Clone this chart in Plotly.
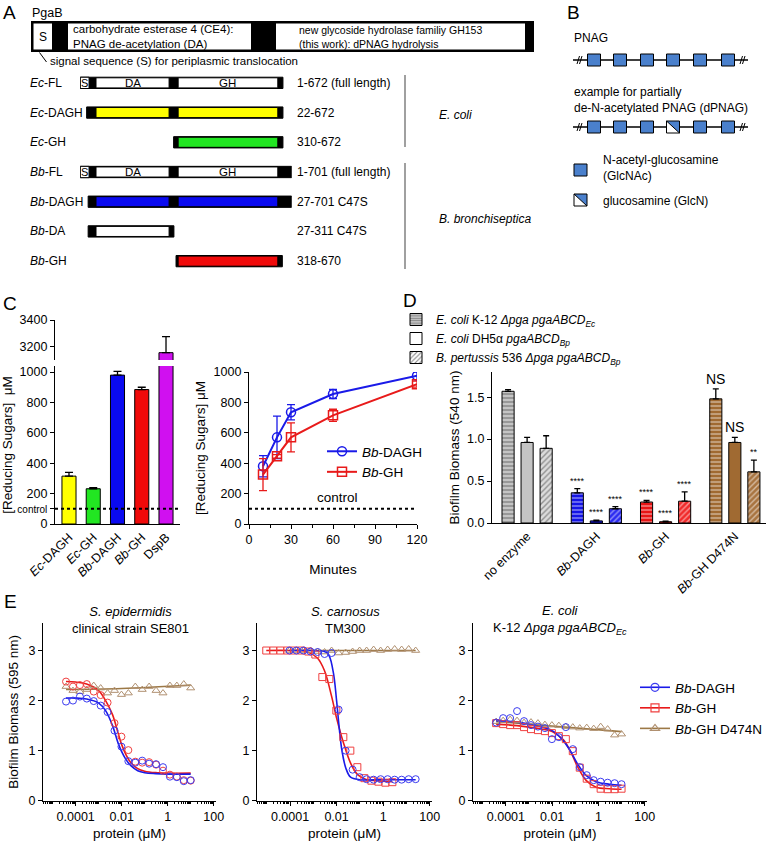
import plotly.graph_objects as go

W, H = 768, 841
def X(p): return p / W
def Y(p): return 1 - p / H
def xdom(a, b): return [a / W, b / W]
def ydom(top, bottom): return [1 - bottom / H, 1 - top / H]

FONT = "Arial, Liberation Sans, Helvetica, sans-serif"

# ---------------- Panel A data ----------------
constructs = ["<i>Ec</i>-FL", "<i>Ec</i>-DAGH", "<i>Ec</i>-GH", "<i>Bb</i>-FL",
              "<i>Bb</i>-DAGH", "<i>Bb</i>-DA", "<i>Bb</i>-GH"]
construct_start = [1, 22, 310, 1, 27, 27, 318]
construct_end = [672, 672, 672, 701, 701, 311, 670]
construct_ranges = ["1-672 (full length)", "22-672", "310-672", "1-701 (full length)",
                    "27-701 C47S", "27-311 C47S", "318-670"]
construct_colors = ["white", "#FFFF00", "#22E622", "white", "#0A0AF0", "white", "#F00A0A"]
full_length = [True, False, False, True, False, False, False]
signal_end = 30
da_region = (53, 295)
gh_region = (325, 655)

# ---------------- Panel C data ----------------
c_enzymes = ["<i>Ec</i>-DAGH", "<i>Ec</i>-GH", "<i>Bb</i>-DAGH", "<i>Bb</i>-GH", "DspB"]
c_sugars = [315, 232, 980, 885, 3155]
c_err = [25, 8, 25, 15, 120]
c_colors = ["#FFFF00", "#22E622", "#0A0AF0", "#F00A0A", "#D010F0"]
control_level = 100

time_min = [10, 20, 30, 60, 120]
dagh_sugars = [380, 570, 735, 855, 975]
dagh_err = [70, 140, 50, 30, 25]
gh_sugars = [325, 445, 570, 715, 920]
gh_err = [105, 12, 95, 40, 20]

# ---------------- Panel D data ----------------
d_groups = ["no enzyme", "<i>Bb</i>-DAGH", "<i>Bb</i>-GH", "<i>Bb</i>-GH D474N"]
d_strains = ["<i>E. coli</i> K-12 <i>Δpga pgaABCD</i><sub><i>Ec</i></sub>",
             "<i>E. coli</i> DH5α <i>pgaABCD</i><sub><i>Bp</i></sub>",
             "<i>B. pertussis</i> 536 <i>Δpga pgaABCD</i><sub><i>Bp</i></sub>"]
d_k12 = [1.57, 0.36, 0.25, 1.48]
d_k12_err = [0.02, 0.05, 0.02, 0.12]
d_dh5 = [0.96, 0.025, 0.015, 0.96]
d_dh5_err = [0.06, 0.01, 0.006, 0.06]
d_bp = [0.89, 0.17, 0.26, 0.61]
d_bp_err = [0.15, 0.025, 0.11, 0.14]
d_k12_sig = ["", "****", "****", "NS"]
d_dh5_sig = ["", "****", "****", "NS"]
d_bp_sig = ["", "****", "****", "**"]

# ---------------- Panel E data ----------------
e1_conc = [0.0000381, 0.0000763, 0.000153, 0.000305, 0.00061, 0.00122, 0.00244, 0.00488,
           0.00977, 0.0195, 0.0391, 0.0781, 0.156, 0.3125, 0.625, 1.25, 2.5, 5, 10]
e1_dagh = [1.98, 2.0, 2.08, 2.04, 1.99, 1.9, 1.77, 1.4, 1.08, 0.79, 0.76, 0.8, 0.74, 0.73,
           0.67, 0.48, 0.47, 0.39, 0.41]
e1_gh = [2.38, 2.28, 2.31, 2.33, 2.18, 2.11, 1.96, 1.55, 1.28, 1.01, 0.78, 0.76, 0.77, 0.72,
         0.6, 0.52, 0.48, 0.41, 0.4]
e1_mut = [2.28, 2.2, 2.18, 2.22, 2.3, 2.25, 2.15, 2.2, 2.12, 2.15, 2.28, 2.22, 2.28, 2.2,
          2.15, 2.3, 2.3, 2.33, 2.25]
e1_fit_x = [0.0000381, 0.0001, 0.0003, 0.001, 0.002, 0.004, 0.007, 0.01, 0.015, 0.025, 0.05,
            0.1, 0.3, 1, 10]
e1_fit_dagh = [2.05, 2.05, 2.03, 1.95, 1.8, 1.5, 1.15, 0.98, 0.83, 0.7, 0.6, 0.56, 0.54, 0.53, 0.53]
e1_fit_gh = [2.38, 2.37, 2.33, 2.2, 2.0, 1.72, 1.35, 1.12, 0.93, 0.76, 0.64, 0.59, 0.56, 0.55, 0.55]
e1_fit_mut_x = [0.0000381, 0.01, 10]
e1_fit_mut = [2.22, 2.24, 2.31]

e2_conc_dagh = [0.000095, 0.00019, 0.00038, 0.00076, 0.00153, 0.00305, 0.0061, 0.0122, 0.0244,
                0.0488, 0.0977, 0.195, 0.39, 0.78, 1.56, 3.125, 6.25, 12.5, 25]
e2_dagh = [3.0, 3.0, 3.0, 2.98, 2.97, 2.93, 2.95, 1.82, 1.0, 0.62, 0.47, 0.43, 0.42, 0.43,
           0.43, 0.42, 0.42, 0.43, 0.43]
e2_conc_gh = [0.0000095, 0.000019, 0.000038, 0.000076, 0.00015, 0.000305, 0.00061, 0.00122,
              0.00244, 0.00488, 0.00977, 0.0195, 0.039, 0.078, 0.156, 0.3125, 0.625, 1.25, 2.5]
e2_gh = [3.0, 3.0, 3.0, 3.0, 3.0, 3.0, 2.98, 2.92, 2.47, 2.43, 1.8, 1.27, 1.0, 0.67, 0.45,
         0.4, 0.38, 0.36, 0.37]
e2_mut = [3.0, 3.0, 3.0, 3.0, 2.98, 2.97, 3.0, 2.95, 2.96, 2.98, 3.0, 3.0, 3.02, 3.0, 3.02,
          3.03, 3.02, 3.03, 3.0]
e2_fit_x_dagh = [0.000095, 0.001, 0.004, 0.007, 0.01, 0.013, 0.017, 0.025, 0.04, 0.1, 1, 25]
e2_fit_dagh = [3.0, 3.0, 2.95, 2.6, 2.0, 1.45, 1.0, 0.65, 0.47, 0.42, 0.42, 0.42]
e2_fit_x_gh = [0.0000095, 0.0001, 0.0005, 0.0015, 0.003, 0.006, 0.01, 0.02, 0.04, 0.08, 0.2, 0.5, 2.5]
e2_fit_gh = [3.0, 3.0, 2.98, 2.85, 2.6, 2.1, 1.65, 1.15, 0.75, 0.52, 0.42, 0.4, 0.38]
e2_fit_mut_x = [0.000095, 25]
e2_fit_mut = [3.0, 3.0]

e3_conc = e1_conc
e3_dagh = [1.56, 1.65, 1.65, 1.79, 1.59, 1.51, 1.48, 1.45, 1.23, 1.27, 1.47, 1.03, 0.67, 0.51,
           0.41, 0.38, 0.36, 0.35, 0.33]
e3_gh = [1.55, 1.53, 1.51, 1.51, 1.47, 1.43, 1.41, 1.39, 1.35, 1.29, 1.23, 0.99, 0.66, 0.44,
         0.33, 0.24, 0.23, 0.23, 0.24]
e3_mut = [1.58, 1.6, 1.62, 1.6, 1.56, 1.57, 1.55, 1.52, 1.51, 1.5, 1.48, 1.47, 1.45, 1.46,
          1.44, 1.48, 1.43, 1.31, 1.33]
e3_fit_x = [0.0000381, 0.0003, 0.002, 0.01, 0.03, 0.06, 0.12, 0.3, 0.8, 3, 10]
e3_fit_dagh = [1.6, 1.57, 1.5, 1.4, 1.2, 1.0, 0.75, 0.5, 0.38, 0.33, 0.31]
e3_fit_gh = [1.53, 1.5, 1.45, 1.38, 1.22, 1.0, 0.7, 0.4, 0.27, 0.24, 0.23]
e3_fit_mut_x = [0.0000381, 10]
e3_fit_mut = [1.58, 1.38]

BLUE = "#1a1ae8"
RED = "#e81a1a"
BROWN = "#9c7846"
M_BLUE = "#3c3cf0"
M_RED = "#f04040"
M_BROWN = "#b09070"

fig = go.Figure()
shapes = []
annotations = []

def txt(x, y, s, size=12, xanchor="left", yanchor="middle", xref="paper", yref="paper", **kw):
    annotations.append(dict(x=x, y=y, text=s, showarrow=False, xanchor=xanchor, yanchor=yanchor,
                            xref=xref, yref=yref,
                            font=dict(size=size, family=FONT, color="black"), **kw))

def prect(x0, y0, x1, y1, fill, lw=0, lc="black"):
    shapes.append(dict(type="rect", xref="paper", yref="paper", x0=X(x0), x1=X(x1),
                       y0=Y(y1), y1=Y(y0), fillcolor=fill, line=dict(width=lw, color=lc)))

def pline(x0, y0, x1, y1, color="black", width=1.2, dash=None):
    d = dict(color=color, width=width)
    if dash:
        d["dash"] = dash
    shapes.append(dict(type="line", xref="paper", yref="paper", x0=X(x0), x1=X(x1),
                       y0=Y(y0), y1=Y(y1), line=d))

# ---------------- Panel letters ----------------
for letter, px, py in [("A", 9, 12), ("B", 573, 12), ("C", 10, 304), ("D", 410, 300), ("E", 10, 601)]:
    txt(X(px), Y(py), letter, size=19, xanchor="center")

# ---------------- Panel A header (schematic) ----------------
txt(X(30), Y(13), "PgaB", size=12.5)
prect(31, 21, 534, 52, "black")
prect(33.5, 23.5, 52, 49.5, "white")
prect(68, 23.5, 251, 49.5, "white")
prect(276, 23.5, 525, 49.5, "white")
txt(X(42.7), Y(36.5), "S", size=12, xanchor="center")
txt(X(71), Y(36.5), "carbohydrate esterase 4 (CE4):<br>PNAG de-acetylation (DA)", size=11.5,
    align="left")
txt(X(297), Y(36.5), "new glycoside hydrolase familiy GH153<br>(this work): dPNAG hydrolysis",
    size=10.5, align="left")
pline(39.5, 52.5, 46.5, 62, width=1)
txt(X(48), Y(61), "signal sequence (S) for periplasmic translocation", size=11.5)

# constructs on a residue axis
fig.add_trace(go.Scatter(x=construct_start, y=list(range(len(constructs))), mode="markers",
                         marker=dict(opacity=0), xaxis="x", yaxis="y", showlegend=False,
                         hoverinfo="skip"))
hh = 0.19
for i in range(len(constructs)):
    s, e = construct_start[i], construct_end[i]
    shapes.append(dict(type="rect", xref="x", yref="y", x0=s, x1=e, y0=i - hh, y1=i + hh,
                       fillcolor="black", line=dict(width=1, color="black")))
    if full_length[i]:
        shapes.append(dict(type="rect", xref="x", yref="y", x0=s, x1=signal_end, y0=i - hh,
                           y1=i + hh, fillcolor="white", line=dict(width=1, color="black")))
        txt((s + signal_end) / 2, i, "S", size=11, xanchor="center", xref="x", yref="y")
    for (r0, r1), lab in [(da_region, "DA"), (gh_region, "GH")]:
        a, b = max(s, r0), min(e, r1)
        if b > a:
            shapes.append(dict(type="rect", xref="x", yref="y", x0=a, x1=b, y0=i - hh + 0.02,
                               y1=i + hh - 0.02, fillcolor=construct_colors[i],
                               line=dict(width=1, color="black")))
            if full_length[i]:
                txt((a + b) / 2, i, lab, size=11.5, xanchor="center", xref="x", yref="y")
    txt(X(28), i, constructs[i], size=12, yref="y")
    txt(X(295), i, construct_ranges[i], size=12, yref="y")

pline(405, 75, 405, 147, color="#808080", width=1.5)
pline(405, 163, 405, 269, color="#808080", width=1.5)
txt(X(437), Y(115), "<i>E. coli</i>", size=12)
txt(X(437), Y(219), "<i>B. bronchiseptica</i>", size=12)

# ---------------- Panel B (schematic) ----------------
SQ = "#4a80cc"
txt(X(572), Y(38), "PNAG", size=12)
txt(X(572), Y(100), "example for partially<br>de-N-acetylated PNAG (dPNAG)", size=12,
    align="left")
sq_centers = [594, 620, 647, 673, 700, 728]
for row_y, special in [(60, None), (127, 3)]:
    pline(573, row_y, 748, row_y, width=1.3)
    for bx in (577, 740):
        pline(bx, row_y + 4, bx + 2.5, row_y - 4, width=1)
        pline(bx + 2.5, row_y + 4, bx + 5, row_y - 4, width=1)
    for j, cx in enumerate(sq_centers):
        x0, x1, y0, y1 = cx - 6.5, cx + 6.5, row_y - 6, row_y + 6
        if j == special:
            prect(x0, y0, x1, y1, "white")
            shapes.append(dict(type="path", xref="paper", yref="paper",
                               path=f"M {X(x0)},{Y(y0)} L {X(x1)},{Y(y0)} L {X(x1)},{Y(y1)} Z",
                               fillcolor=SQ, line=dict(width=0)))
            prect(x0, y0, x1, y1, "rgba(0,0,0,0)", lw=1)
            pline(x0, y0, x1, y1, width=1)
        else:
            prect(x0, y0, x1, y1, SQ, lw=1)
prect(574, 164, 587, 176, SQ, lw=1)
txt(X(601), Y(168), "N-acetyl-glucosamine<br>(GlcNAc)", size=12, align="left")
prect(574, 194, 587, 206, "white")
shapes.append(dict(type="path", xref="paper", yref="paper",
                   path=f"M {X(574)},{Y(194)} L {X(587)},{Y(194)} L {X(587)},{Y(206)} Z",
                   fillcolor=SQ, line=dict(width=0)))
prect(574, 194, 587, 206, "rgba(0,0,0,0)", lw=1)
pline(574, 194, 587, 206, width=1)
txt(X(601), Y(201), "glucosamine (GlcN)", size=12)

# ---------------- Panel C left: bars with broken axis ----------------
cx_pos = list(range(len(c_enzymes)))
for xa, ya in [("x2", "y2"), ("x3", "y3")]:
    fig.add_trace(go.Bar(x=cx_pos, y=c_sugars, width=0.58,
                         marker=dict(color=c_colors, line=dict(color="black", width=1)),
                         error_y=dict(type="data", array=c_err, arrayminus=[0] * len(c_err),
                                      symmetric=False, color="black", thickness=1.3, width=4),
                         xaxis=xa, yaxis=ya, showlegend=False))
shapes.append(dict(type="line", xref="x2 domain", yref="y2", x0=0, x1=1, y0=control_level,
                   y1=control_level, line=dict(color="black", width=2, dash="dot")))

# ---------------- Panel C right: time course ----------------
fig.add_trace(go.Scatter(x=time_min, y=dagh_sugars, mode="lines+markers", name="<i>Bb</i>-DAGH",
                         line=dict(color=BLUE, width=2),
                         marker=dict(symbol="circle-open", size=9, color=BLUE, line=dict(width=1.5)),
                         error_y=dict(type="data", array=dagh_err, color=BLUE, thickness=1.3, width=4),
                         xaxis="x4", yaxis="y4", legend="legend2"))
fig.add_trace(go.Scatter(x=time_min, y=gh_sugars, mode="lines+markers", name="<i>Bb</i>-GH",
                         line=dict(color=RED, width=2),
                         marker=dict(symbol="square-open", size=9, color=RED, line=dict(width=1.5)),
                         error_y=dict(type="data", array=gh_err, color=RED, thickness=1.3, width=4),
                         xaxis="x4", yaxis="y4", legend="legend2"))
shapes.append(dict(type="line", xref="x4 domain", yref="y4", x0=0, x1=1, y0=control_level,
                   y1=control_level, line=dict(color="black", width=2, dash="dot")))
txt(63, control_level, "control", size=13.5, xanchor="center", yanchor="bottom",
    xref="x4", yref="y4", yshift=2)

# ---------------- Panel D: grouped patterned bars ----------------
grp_x = list(range(len(d_groups)))
base_cols = ["#c4c4c4", "#1414e6", "#e61414", "#a06a32"]
dark_cols = ["#505050", "#00006a", "#6a0000", "#3e2408"]
light_cols = ["#dcdcdc", "#2a2af0", "#f02a2a", "#a87440"]
bw = 0.175
step = 0.275
series = [(d_k12, d_k12_err, d_k12_sig, "-", base_cols),
          (d_dh5, d_dh5_err, d_dh5_sig, "", base_cols),
          (d_bp, d_bp_err, d_bp_sig, "/", light_cols)]
for k, (vals, errs, sigs, pat, cols) in enumerate(series):
    marker = dict(color=cols, line=dict(color="black", width=1))
    if pat:
        marker["pattern"] = dict(shape=pat, fillmode="overlay", fgcolor=dark_cols, size=4,
                                 solidity=0.35)
    fig.add_trace(go.Bar(x=grp_x, y=vals, width=bw, offset=(k - 1) * step - bw / 2,
                         marker=marker,
                         error_y=dict(type="data", array=errs, arrayminus=[0] * len(errs),
                                      symmetric=False, color="black", thickness=1.3, width=3),
                         xaxis="x5", yaxis="y5", showlegend=False))
    for g in grp_x:
        if sigs[g]:
            big = sigs[g] == "NS"
            txt(g + (k - 1) * step, vals[g] + errs[g], sigs[g], size=14 if big else 9,
                xanchor="center", yanchor="bottom", xref="x5", yref="y5", yshift=0 if big else 1)
# legend-only entries for panel D
leg_styles = [dict(color="#c4c4c4", pattern=dict(shape="-", fillmode="overlay", fgcolor="#404040",
                                                 size=3, solidity=0.4)),
              dict(color="white"),
              dict(color="white", pattern=dict(shape="/", fillmode="overlay", fgcolor="#202020",
                                               size=4, solidity=0.35))]
for name, st in zip(d_strains, leg_styles):
    st["line"] = dict(color="black", width=1)
    fig.add_trace(go.Bar(x=[None], y=[None], name=name, marker=st, xaxis="x5", yaxis="y5",
                         legend="legend"))

# ---------------- Panel E: dose responses ----------------
e_sets = [
    ("x6", "y6", (e1_conc, e1_dagh), (e1_conc, e1_gh), (e1_conc, e1_mut),
     (e1_fit_x, e1_fit_dagh), (e1_fit_x, e1_fit_gh), (e1_fit_mut_x, e1_fit_mut), "circle-open"),
    ("x7", "y7", (e2_conc_dagh, e2_dagh), (e2_conc_gh, e2_gh), (e2_conc_dagh, e2_mut),
     (e2_fit_x_dagh, e2_fit_dagh), (e2_fit_x_gh, e2_fit_gh), (e2_fit_mut_x, e2_fit_mut), "square-open"),
    ("x8", "y8", (e3_conc, e3_dagh), (e3_conc, e3_gh), (e3_conc, e3_mut),
     (e3_fit_x, e3_fit_dagh), (e3_fit_x, e3_fit_gh), (e3_fit_mut_x, e3_fit_mut), "square-open"),
]
for xa, ya, pd_, pg, pm, fd, fg, fm, gh_sym in e_sets:
    for (xs, ys), col, lcol in [(fm, BROWN, BROWN), (fg, RED, RED), (fd, BLUE, BLUE)]:
        fig.add_trace(go.Scatter(x=xs, y=ys, mode="lines", line=dict(color=lcol, width=1.6,
                                                                     shape="spline"),
                                 xaxis=xa, yaxis=ya, showlegend=False, hoverinfo="skip"))
    for (xs, ys), sym, col in [(pm, "triangle-up-open", M_BROWN), (pg, gh_sym, M_RED),
                               (pd_, "circle-open", M_BLUE)]:
        fig.add_trace(go.Scatter(x=xs, y=ys, mode="markers",
                                 marker=dict(symbol=sym, size=7, color=col, line=dict(width=1)),
                                 xaxis=xa, yaxis=ya, showlegend=False))
for name, sym, col, lcol in [("<i>Bb</i>-DAGH", "circle-open", M_BLUE, BLUE),
                             ("<i>Bb</i>-GH", "square-open", M_RED, RED),
                             ("<i>Bb</i>-GH D474N", "triangle-up-open", M_BROWN, BROWN)]:
    fig.add_trace(go.Scatter(x=[None], y=[None], mode="lines+markers", name=name,
                             line=dict(color=lcol, width=1.6),
                             marker=dict(symbol=sym, size=8, color=col, line=dict(width=1.2)),
                             xaxis="x6", yaxis="y6", legend="legend3"))

txt(X(130), Y(620), "<i>S. epidermidis</i><br>clinical strain SE801", size=13, xanchor="center")
txt(X(345), Y(620), "<i>S. carnosus</i><br>TM300", size=13, xanchor="center")
txt(X(560), Y(620), "<i>E. coli</i><br>K-12 <i>Δpga pgaABCD</i><sub><i>Ec</i></sub>", size=13,
    xanchor="center")

# ---------------- Axes ----------------
def base_axis(**kw):
    d = dict(showline=True, linecolor="black", linewidth=1.3, ticks="outside", ticklen=4,
             tickwidth=1.2, tickcolor="black", showgrid=False, zeroline=False, automargin=False,
             tickfont=dict(size=12.5, family=FONT, color="black"),
             title_font=dict(size=13.5, family=FONT, color="black"))
    d.update(kw)
    return d

layout_axes = dict(
    xaxis=dict(domain=xdom(80, 291.7), range=[0, 701], visible=False, anchor="y",
               automargin=False),
    yaxis=dict(domain=ydom(68, 276), range=[6.5, -0.5], visible=False, anchor="x",
               automargin=False),
    xaxis2=base_axis(domain=xdom(55, 180), range=[-0.577, 4.577], tickvals=cx_pos,
                     ticktext=c_enzymes, tickangle=-45, ticks="", anchor="y2"),
    yaxis2=base_axis(domain=ydom(366, 524), range=[0, 1040],
                     tickvals=[0, 100, 200, 400, 600, 800, 1000],
                     ticktext=["0", "<span style='font-size:10px'>control</span>", "200", "400",
                               "600", "800", "1000"],
                     title=dict(text="[Reducing Sugars]  μM", standoff=4), anchor="x2"),
    xaxis3=dict(domain=xdom(55, 180), range=[-0.577, 4.577], visible=False, anchor="y3",
                automargin=False),
    yaxis3=base_axis(domain=ydom(320, 360), range=[3100, 3400], tickvals=[3200, 3400],
                     anchor="x3"),
    xaxis4=base_axis(domain=xdom(249, 417), range=[0, 120], tickvals=[0, 30, 60, 90, 120],
                     minor=dict(dtick=15, tick0=0, ticks="outside", ticklen=3, tickcolor="black"),
                     title=dict(text="Minutes", standoff=18), anchor="y4"),
    yaxis4=base_axis(domain=ydom(372, 524), range=[0, 1000], dtick=200,
                     title=dict(text="[Reducing Sugars] μM", standoff=4), anchor="x4"),
    xaxis5=base_axis(domain=xdom(492, 766), range=[-0.507, 3.45], tickvals=grp_x,
                     ticktext=d_groups, tickangle=-45, ticks="", anchor="y5"),
    yaxis5=base_axis(domain=ydom(372, 523), range=[0, 1.8], tickvals=[0, 0.5, 1.0, 1.5],
                     ticktext=["0.0", "0.5", "1.0", "1.5"],
                     title=dict(text="Biofilm Biomass (540 nm)", standoff=4), anchor="x5"),
)
for i, (a, b) in zip([6, 7, 8], [(43, 216), (257, 432), (473, 647)]):
    layout_axes[f"xaxis{i}"] = base_axis(domain=xdom(a, b), type="log", range=[-5.42, 2.1],
                                         tickvals=[0.0001, 0.01, 1, 100],
                                         ticktext=["0.0001", "0.01", "1", "100"],
                                         minor=dict(dtick="D1", ticks="outside", ticklen=2,
                                                    tickcolor="black"),
                                         title=dict(text="protein (μM)", standoff=5),
                                         anchor=f"y{i}")
    yd = base_axis(domain=ydom(623, 800.7), range=[0, 3.55], tickvals=[0, 1, 2, 3],
                   anchor=f"x{i}")
    if i == 6:
        yd["title"] = dict(text="Biofilm Biomass (595 nm)", standoff=6)
    layout_axes[f"yaxis{i}"] = yd

fig.update_layout(
    width=W, height=H, margin=dict(l=0, r=0, t=0, b=0, autoexpand=False), autosize=False,
    paper_bgcolor="white", plot_bgcolor="rgba(0,0,0,0)",
    font=dict(family=FONT, color="black", size=12),
    barmode="overlay",
    shapes=shapes, annotations=annotations,
    legend=dict(x=X(396), y=Y(305), xanchor="left", yanchor="top", bgcolor="rgba(0,0,0,0)",
                font=dict(size=12, family=FONT), tracegroupgap=0, itemwidth=30),
    legend2=dict(x=X(322), y=Y(436), xanchor="left", yanchor="top", bgcolor="rgba(0,0,0,0)",
                 font=dict(size=13.5, family=FONT), itemwidth=30),
    legend3=dict(x=1, y=Y(672), xanchor="right", yanchor="top", bgcolor="rgba(0,0,0,0)",
                 font=dict(size=13.5, family=FONT), itemwidth=30),
    **layout_axes,
)

fig.write_html("out.html", config={"displayModeBar": False},
               post_script="document.body.style.margin='0';")
